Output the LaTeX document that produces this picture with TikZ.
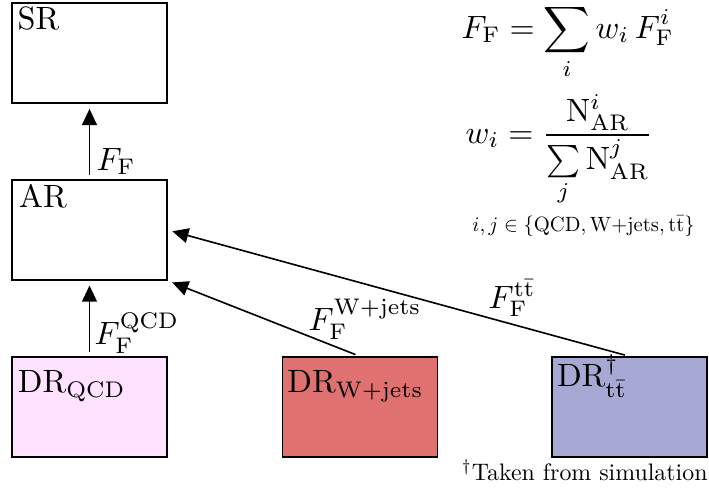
\documentclass[tikz,border=0pt]{standalone}
\usepackage{amsmath}
\usetikzlibrary{arrows.meta}
\definecolor{qcdpink}{RGB}{255,226,255}
\definecolor{wjetsred}{RGB}{224,113,113}
\definecolor{ttbarblue}{RGB}{168,168,212}
\tikzset{
  region/.style={draw, rectangle, minimum width=48.05pt, minimum height=31pt, inner sep=0pt, line width=0.4pt},
  regname/.style={anchor=base west, inner sep=0pt},
  ffarrow/.style={-{Triangle[length=5pt,width=4.6pt]}, line width=0.5pt, shorten <=1.5pt, shorten >=1.5pt},
  fflabel/.style={anchor=base west, inner sep=0pt},
  smalltext/.style={inner sep=0pt, scale=0.74}
}

\begin{document}
\begin{tikzpicture}[x=0.31pt, y=-0.31pt]
  %%%%% START %%%%%
  \useasboundingbox (0,0) rectangle (709,494);

  % regions
  \node[region, line width=0.65pt] (sr) at (89.5,53) {};
  \node[region] (ar) at (89.5,230) {};
  \node[region, fill=qcdpink] (drqcd) at (89.5,407) {};
  \node[region, fill=wjetsred] (drw) at (360,407) {};
  \node[region, fill=ttbarblue] (drtt) at (629.5,407) {};

  \node[regname] (srname) at ([shift={(6,28)}]sr.north west) {SR};
  \node[regname] (arname) at ([shift={(7,28)}]ar.north west) {AR};
  \node[regname] (drqcdname) at ([shift={(6,36)}]drqcd.north west) {$\mathrm{DR}_\mathrm{QCD}$};
  \node[regname] (drwname) at ([shift={(5,36)}]drw.north west) {$\mathrm{DR}_\mathrm{W{+}jets}$};
  \node[regname] (drttname) at ([shift={(5,30)}]drtt.north west) {$\mathrm{DR}^\dagger_{\mathrm{t\bar{t}}}$};

  % fake factors
  \draw[ffarrow] (ar.north) -- (sr.south);
  \draw[ffarrow] (drqcd.north) -- (ar.south);
  \draw[ffarrow] (drw.north) -- (ar.south east);
  \draw[ffarrow] (drtt.north) -- (ar.east);

  \node[fflabel] (ffsr) at (96,170) {$F_\mathrm{F}$};
  \node[fflabel] (ffqcd) at (94,344) {$F_\mathrm{F}^\mathrm{QCD}$};
  \node[fflabel] (ffw) at (308,330) {$F_\mathrm{F}^\mathrm{W{+}jets}$};
  \node[fflabel] (fftt) at (488,308) {$F_\mathrm{F}^{\mathrm{t\bar{t}}}$};

  % weights
  \node[anchor=base west, inner sep=0pt] (eqff) at (461,38) {$\displaystyle F_\mathrm{F} = \sum_i w_i\, F_\mathrm{F}^i$};
  \node[anchor=base west, inner sep=0pt] (eqw) at (465,143) {$\displaystyle w_i = \frac{\mathrm{N}^i_\mathrm{AR}}{\sum\limits_j \mathrm{N}^j_\mathrm{AR}}$};
  \node[smalltext, scale=0.865, anchor=base west] (eqset) at (472,231) {$i,j \in \{\mathrm{QCD}, \mathrm{W{+}jets}, \mathrm{t\bar{t}}\}$};

  \node[smalltext, anchor=base east] (simnote) at (708,480) {$^\dagger$Taken from simulation};
  %%%%% END %%%%%
\end{tikzpicture}
\end{document}
